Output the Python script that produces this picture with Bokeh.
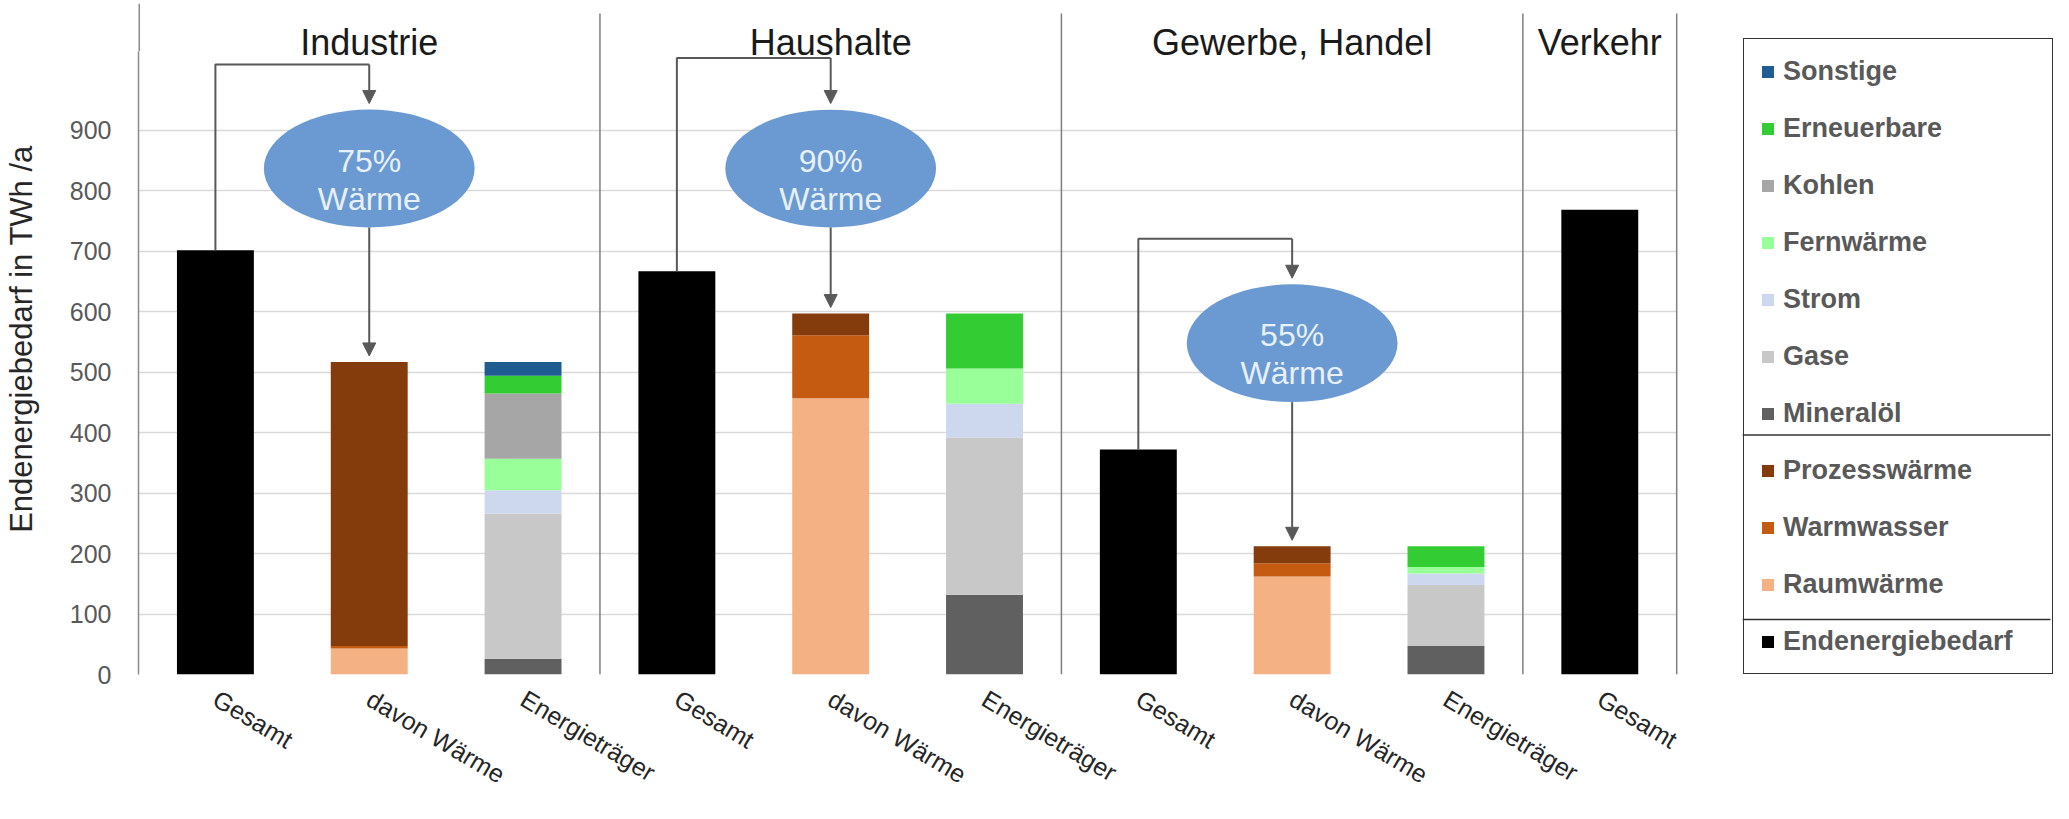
from bokeh.plotting import figure
from bokeh.models import (ColumnDataSource, FixedTicker, Legend, LegendItem,
                          Arrow, NormalHead, Range1d)
from bokeh.core.properties import value
from bokeh.embed import file_html
from bokeh.resources import INLINE

# ---------------- data ----------------
sectors = ["Industrie", "Haushalte", "Gewerbe, Handel", "Verkehr"]
categories = ["Gesamt", "davon Wärme", "Energieträger",
              "Gesamt", "davon Wärme", "Energieträger",
              "Gesamt", "davon Wärme", "Energieträger",
              "Gesamt"]
sector_of_column = [0, 0, 0, 1, 1, 1, 2, 2, 2, 3]

endenergiebedarf = [702, 0, 0, 667, 0, 0, 372, 0, 0, 769]
raumwaerme       = [0, 43, 0, 0, 457, 0, 0, 162, 0, 0]
warmwasser       = [0, 4, 0, 0, 104, 0, 0, 22, 0, 0]
prozesswaerme    = [0, 470, 0, 0, 36, 0, 0, 28, 0, 0]
mineraloel       = [0, 0, 26, 0, 0, 132, 0, 0, 47, 0]
gase             = [0, 0, 240, 0, 0, 260, 0, 0, 101, 0]
strom            = [0, 0, 39, 0, 0, 56, 0, 0, 19, 0]
fernwaerme       = [0, 0, 52, 0, 0, 58, 0, 0, 11, 0]
kohlen           = [0, 0, 108, 0, 0, 0, 0, 0, 0, 0]
erneuerbare      = [0, 0, 29, 0, 0, 91, 0, 0, 34, 0]
sonstige         = [0, 0, 23, 0, 0, 0, 0, 0, 0, 0]

waerme_share = ["75%", "90%", "55%"]
y_ticks = [0, 100, 200, 300, 400, 500, 600, 700, 800, 900]

# annotation positions (value units)
bubble_y = [837, 837, 548]
elbow_y = [1009, 1020, 721]
legend_sep_y = [396, 91]

# ---------------- styles ----------------
FONT = "Liberation Sans"
FIG_W, FIG_H = 2053, 803
BORDER_L, BORDER_T, BORDER_B = 137, 3, 128
PX_PER_CAT = 153.9
frame_w = FIG_W - BORDER_L
frame_h = FIG_H - BORDER_T - BORDER_B
Y_END = 1110
x_start = -0.5
x_end = x_start + frame_w / PX_PER_CAT
px_per_val = frame_h / Y_END
AXIS_BOUND = 1031

series = [
    ("Endenergiebedarf", endenergiebedarf, "#000000"),
    ("Raumwärme", raumwaerme, "#f4b183"),
    ("Warmwasser", warmwasser, "#c55a11"),
    ("Prozesswärme", prozesswaerme, "#843c0c"),
    ("Mineralöl", mineraloel, "#606060"),
    ("Gase", gase, "#c8c8c8"),
    ("Strom", strom, "#cdd8ee"),
    ("Fernwärme", fernwaerme, "#99ff99"),
    ("Kohlen", kohlen, "#a6a6a6"),
    ("Erneuerbare", erneuerbare, "#33cc33"),
    ("Sonstige", sonstige, "#1f5c8f"),
]
legend_order = ["Sonstige", "Erneuerbare", "Kohlen", "Fernwärme", "Strom", "Gase",
                "Mineralöl", "Prozesswärme", "Warmwasser", "Raumwärme", "Endenergiebedarf"]

x_pos = list(range(len(categories)))
data = {"x": x_pos}
for name, vals, _ in series:
    data[name] = vals
source = ColumnDataSource(data)

p = figure(width=FIG_W, height=FIG_H, output_backend="svg", toolbar_location=None,
           x_range=Range1d(x_start, x_end), y_range=Range1d(0, Y_END),
           min_border_left=BORDER_L, min_border_right=0,
           min_border_top=BORDER_T, min_border_bottom=BORDER_B)
p.outline_line_color = None
p.background_fill_color = "white"
p.border_fill_color = "white"

# grid
p.xgrid.visible = False
p.ygrid.grid_line_color = "#d9d9d9"
p.ygrid.grid_line_width = 1.5
try:
    p.ygrid.cross_bounds = (x_start, len(categories) - 0.5)
except Exception:
    pass

# stacked bars
names = [s[0] for s in series]
colors = [s[2] for s in series]
renderers = p.vbar_stack(names, x="x", width=0.5, source=source,
                         fill_color=colors, line_color=None)
rmap = dict(zip(names, renderers))

# sector separators
bounds = [i + 0.5 for i in range(len(categories) - 1)
          if sector_of_column[i] != sector_of_column[i + 1]] + [len(categories) - 0.5]
sep_top = Y_END - 10 / px_per_val
p.segment(x0=bounds, y0=[0] * len(bounds), x1=bounds, y1=[sep_top] * len(bounds),
          line_color="#7f7f7f", line_width=1.5)

# upper part of the value axis line
p.segment(x0=[x_start], y0=[AXIS_BOUND], x1=[x_start], y1=[Y_END],
          line_color="#8c8c8c", line_width=3)

# sector titles
title_x = []
for s in range(len(sectors)):
    cols = [i for i, c in enumerate(sector_of_column) if c == s]
    title_x.append(sum(cols) / len(cols))
title_y = Y_END - 39 / px_per_val
p.text(x=title_x, y=[title_y] * len(sectors), text=sectors,
       text_font=value(FONT), text_font_size="36px", text_color="#1a1a1a",
       text_align="center", text_baseline="alphabetic")

# share bubbles and arrows
gesamt_x = [i for i in range(9) if categories[i] == "Gesamt"]
waerme_x = [i for i in range(9) if categories[i] == "davon Wärme"]
gesamt_top = [endenergiebedarf[i] for i in gesamt_x]
waerme_top = [raumwaerme[i] + warmwasser[i] + prozesswaerme[i] for i in waerme_x]
bubble_h = 195
bubble_w = 1.37

p.multi_line(xs=[[g, g, w] for g, w in zip(gesamt_x, waerme_x)],
             ys=[[t, e, e] for t, e in zip(gesamt_top, elbow_y)],
             line_color="#595959", line_width=2)
arrow_src = ColumnDataSource(dict(
    x0=waerme_x + waerme_x,
    y0=elbow_y + [b - bubble_h / 2 for b in bubble_y],
    x1=waerme_x + waerme_x,
    y1=[b + bubble_h / 2 + 10 for b in bubble_y] + [t + 10 for t in waerme_top],
))
p.add_layout(Arrow(source=arrow_src, x_start="x0", y_start="y0", x_end="x1", y_end="y1",
                   line_color="#595959", line_width=2,
                   end=NormalHead(size=13, fill_color="#595959", line_color="#595959")))

p.ellipse(x=waerme_x, y=bubble_y, width=bubble_w, height=bubble_h,
          fill_color="#6a9ad1", line_color=None)
p.text(x=waerme_x, y=bubble_y, text=waerme_share, y_offset=-8,
       text_font=value(FONT), text_font_size="32px", text_color="#e8f0fa",
       text_align="center", text_baseline="alphabetic")
p.text(x=waerme_x, y=bubble_y, text=["Wärme"] * len(waerme_x), y_offset=30,
       text_font=value(FONT), text_font_size="32px", text_color="#e8f0fa",
       text_align="center", text_baseline="alphabetic")

# axes
p.yaxis.ticker = FixedTicker(ticks=y_ticks)
p.yaxis.bounds = (0, AXIS_BOUND)
p.yaxis.axis_line_color = "#8c8c8c"
p.yaxis.axis_line_width = 1.5
p.yaxis.major_tick_line_color = None
p.yaxis.minor_tick_line_color = None
p.yaxis.major_tick_in = 0
p.yaxis.major_tick_out = 0
p.yaxis.major_label_standoff = 27
p.yaxis.major_label_text_font = FONT
p.yaxis.major_label_text_font_size = "25px"
p.yaxis.major_label_text_color = "#595959"
p.yaxis.axis_label = "Endenergiebedarf in TWh /a"
p.yaxis.axis_label_text_font = FONT
p.yaxis.axis_label_text_font_size = "31px"
p.yaxis.axis_label_text_font_style = "normal"
p.yaxis.axis_label_text_color = "#262626"
p.yaxis.axis_label_standoff = 28

p.xaxis.ticker = FixedTicker(ticks=x_pos)
p.xaxis.major_label_overrides = {i: c for i, c in enumerate(categories)}
p.xaxis.major_label_orientation = -0.54
p.xaxis.axis_line_color = None
p.xaxis.major_tick_line_color = None
p.xaxis.minor_tick_line_color = None
p.xaxis.major_tick_in = 0
p.xaxis.major_tick_out = 0
p.xaxis.major_label_standoff = 22
p.xaxis.major_label_text_line_height = 0.5
p.xaxis.major_label_text_font = FONT
p.xaxis.major_label_text_font_size = "25px"
p.xaxis.major_label_text_color = "#262626"

# legend
LEG_LEFT_PX = 1605
leg_left = x_start + LEG_LEFT_PX / PX_PER_CAT
leg_right = leg_left + 308 / PX_PER_CAT
legend = Legend(
    items=[LegendItem(label=n, renderers=[rmap[n]]) for n in legend_order],
    location=(LEG_LEFT_PX, 0), orientation="vertical",
    label_text_font=FONT, label_text_font_style="bold", label_text_font_size="27px",
    label_text_color="#595959", glyph_width=15, glyph_height=15, label_standoff=8,
    spacing=25, padding=16, label_height=32, label_width=253, margin=0,
    border_line_color="#333333", border_line_width=1.5, border_line_alpha=1.0,
    background_fill_color=None)
p.add_layout(legend)

# separators between the legend groups
p.segment(x0=[leg_left] * 2, y0=legend_sep_y, x1=[leg_right] * 2, y1=legend_sep_y,
          line_color="#333333", line_width=1.5)

open("out.html", "w").write(file_html(p, INLINE))
